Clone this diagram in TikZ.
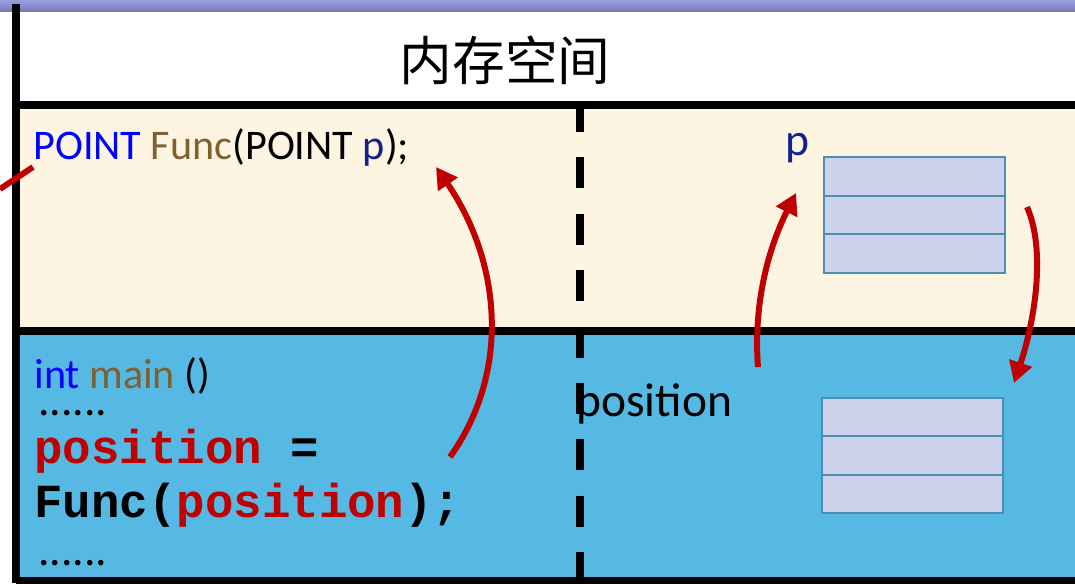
\documentclass[tikz,border=0pt]{standalone}
\usepackage{fontspec}
\setmainfont{Carlito}
\newfontfamily\codefont{Liberation Mono}
\newfontfamily\cjk{Noto Sans CJK SC}
\usetikzlibrary{arrows.meta}
\definecolor{cband}{HTML}{8C94DA}
\definecolor{ccream}{HTML}{FDF5E1}
\definecolor{csky}{HTML}{56B9E4}
\definecolor{cmem}{HTML}{CDD1EB}
\definecolor{cedge}{HTML}{4A8FB0}
\definecolor{cred}{HTML}{C00000}
\definecolor{ckw}{HTML}{0000FF}
\definecolor{cfn}{HTML}{7F6030}
\definecolor{cvar}{HTML}{14208C}

\begin{document}
\begin{tikzpicture}[x=0.02cm,y=-0.02cm,>={Triangle[length=12pt,width=13pt]},
    txt/.style={anchor=base west,inner sep=0pt,font=\fontsize{24}{28}\selectfont},
    code/.style={anchor=base west,inner sep=0pt,font=\codefont\bfseries\fontsize{27}{30}\selectfont},
    cell/.style={draw=cedge,fill=cmem,line width=1.1pt},
    flow/.style={->,cred,line width=3.4pt}]
        \useasboundingbox (0,0) rectangle (1075,583);
        % bands: title strip, callee frame, caller frame
        \shade[top color=cband!90!white,bottom color=cband!85!black] (0,0) rectangle (1075,11);
        \fill[ccream] (16,105) rectangle (1075,331);
        \fill[csky] (16,331) rectangle (1075,580);
        \draw[line width=4.5pt] (16,4) -- (16,583);
        \draw[line width=4.5pt] (16,105) -- (1075,105);
        \draw[line width=4pt] (16,331) -- (1075,331);
        \draw[line width=4pt] (16,580.5) -- (1075,580.5);
        \draw[line width=4pt,dash pattern=on 17.6pt off 14.5pt] (580,101) -- (580,578);
        % texts
        \node[font=\cjk\fontsize{30}{34}\selectfont] (title) at (505,60) {内存空间};
        \node[txt] (decl) at (33,159) {\textcolor{ckw}{POINT} \textcolor{cfn}{Func}(POINT \textcolor{cvar}{p});};
        \node[txt,text=cvar,font=\fontsize{26}{30}\selectfont] (plabel) at (785,155) {p};
        \node[txt] (mainfn) at (34,388) {\textcolor{ckw}{int} \textcolor{cfn}{main} ()};
        \node[txt,font=\fontsize{26}{30}\selectfont] (dotsa) at (38,415) {......};
        \node[code] (assign) at (34,463) {\textcolor{cred}{position} =};
        \node[code] (call) at (34,517) {Func(\textcolor{cred}{position});};
        \node[txt,font=\fontsize{26}{30}\selectfont] (dotsb) at (38,565) {......};
        \node[txt,font=\fontsize{27}{31}\selectfont] (poslabel) at (576,416) {position};
        % the two three-word structs
        \foreach \k in {0,1,2}{
          \draw[cell] (824,157+38.7*\k) rectangle ++(181,38.7);
          \draw[cell] (822,398+38.3*\k) rectangle ++(181,38.3);
        }
        % copies: argument in, result out
        \coordinate (stubfrom) at (0,189);
        \coordinate (stubto) at (33,167);
        \coordinate (callsrc) at (450,457);
        \coordinate (calldst) at (436,167);
        \coordinate (argsrc) at (758,367);
        \coordinate (argdst) at (796,193);
        \coordinate (retsrc) at (1027,207);
        \coordinate (retdst) at (1014,383);
        \draw[cred,line width=3.4pt] (stubfrom) -- (stubto);
        \draw[flow] (callsrc) .. controls (512,370) and (500,260) .. (calldst);
        \draw[flow] (argsrc) .. controls (753,300) and (770,245) .. (argdst);
        \draw[flow] (retsrc) .. controls (1046,250) and (1035,320) .. (retdst);
      \end{tikzpicture}
\end{document}
